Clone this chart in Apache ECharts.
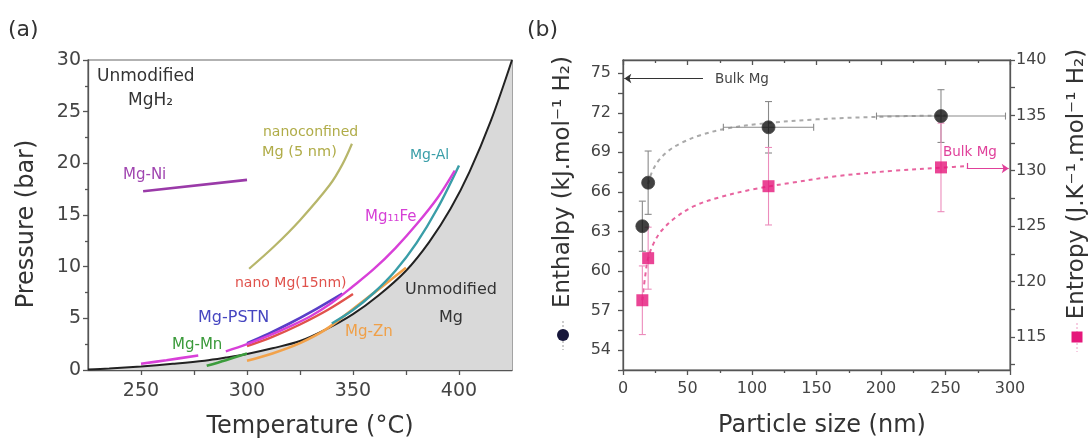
<!DOCTYPE html>
<html><head><meta charset="utf-8">
<script src="https://cdn.jsdelivr.net/npm/echarts@6/dist/echarts.min.js"></script>
<style>html,body{margin:0;padding:0;background:#fff}#c{width:1091px;height:440px}</style>
</head><body><div id="c"></div>
<script>
// ---------- Panel (a): temperature (°C) vs pressure (bar) ----------
const tempLabelsA = [250, 300, 350, 400];
const tempTicksA = [250, 275, 300, 325, 350, 375, 400];
const unmodifiedMgH2 = [[225,0.05],[235,0.15],[250,0.35],[265,0.6],[280,0.9],[290,1.2],[300,1.55],[312,2.1],[325,2.8],[337,3.9],[350,5.4],[362,7.2],[375,9.6],[386,12.4],[396,15.6],[405,19.2],[415,24.1],[425,30]];
const mgNi = [[251,17.3],[300,18.4]];
const nanoconfined5 = [[301,9.8],[313,12.0],[325,14.5],[339,17.9],[345,19.9],[349.5,21.9]];
const mgAl = [[340,4.5],[350,5.8],[360,7.5],[370,9.6],[380,12.3],[390,15.7],[400,19.8]];
const mg11FeLow = [[250,0.6],[262,0.95],[277,1.4]];
const mg11Fe = [[290,1.8],[300,2.5],[310,3.3],[320,4.2],[330,5.2],[340,6.5],[350,8.1],[360,9.8],[370,11.8],[380,14.1],[390,16.7],[398,19.3]];
const nanoMg15 = [[300,2.3],[312,3.2],[325,4.4],[338,5.8],[350,7.35]];
const mgPSTN = [[300,2.6],[310,3.5],[320,4.5],[330,5.6],[345,7.4]];
const mgMn = [[281,0.4],[290,0.95],[300,1.6]];
const mgZn = [[300,0.9],[312,1.6],[325,2.6],[337,3.9],[350,5.9],[362,7.8],[375,9.9]];

// ---------- Panel (b): particle size (nm) vs enthalpy / entropy ----------
const particleSize = [15, 19.5, 112.8, 246.5];
const sizeErr = [0, 0, 35, 50];
const enthalpy = [63.4, 66.7, 70.9, 71.75];
const enthalpyErr = [1.9, 2.4, 1.95, 2.0];
const entropy = [118.3, 122.1, 128.6, 130.3];
const entropyErr = [3.1, 2.8, 3.5, 4.0];
const enthalpyFit = [[19.5,66.6],[22,67.4],[27,68.3],[35,69.1],[45,69.7],[60,70.3],[80,70.8],[110,71.2],[150,71.5],[200,71.7],[250,71.8]];
const entropyFit = [[15,118.3],[17,120.3],[19.5,122.1],[24,123.5],[30,124.6],[40,125.7],[55,126.8],[75,127.6],[100,128.3],[130,128.9],[165,129.5],[210,130.0],[250,130.3],[265,130.4]];
const bulkEnthalpy = 74.6;
const bulkEntropy = 130.2;
const enthalpyLabels = [54, 57, 60, 63, 66, 69, 72, 75];
const enthalpyTicks = [52.5, 54, 55.5, 57, 58.5, 60, 61.5, 63, 64.5, 66, 67.5, 69, 70.5, 72, 73.5, 75];
const entropyLabels = [115, 120, 125, 130, 135, 140];
const entropyTicks = [112.5, 115, 117.5, 120, 122.5, 125, 127.5, 130, 132.5, 135, 137.5, 140];

const FONT = 'DejaVu Sans';
const AX = {color: '#555', width: 1.3};

function curve(data, color, width, extra) {
  return Object.assign({
    type: 'line', xAxisIndex: 0, yAxisIndex: 0, data: data, symbol: 'none',
    smooth: 0.35, silent: true,
    lineStyle: {color: color, width: width}
  }, extra || {});
}

function errorBars(yIdx, data, color) {
  return {
    type: 'custom', xAxisIndex: 1, yAxisIndex: yIdx, data: data, z: 3, silent: true,
    encode: {x: 0, y: 1},
    renderItem: function (params, api) {
      const x = api.value(0), y = api.value(1), dx = api.value(2), dy = api.value(3);
      const st = {stroke: color, lineWidth: 1.1};
      const cap = 3.5;
      const ch = [];
      if (dy > 0) {
        const a = api.coord([x, y + dy]), b = api.coord([x, y - dy]);
        ch.push({type: 'line', shape: {x1: a[0], y1: a[1], x2: b[0], y2: b[1]}, style: st});
        ch.push({type: 'line', shape: {x1: a[0] - cap, y1: a[1], x2: a[0] + cap, y2: a[1]}, style: st});
        ch.push({type: 'line', shape: {x1: b[0] - cap, y1: b[1], x2: b[0] + cap, y2: b[1]}, style: st});
      }
      if (dx > 0) {
        const a = api.coord([x - dx, y]), b = api.coord([x + dx, y]);
        ch.push({type: 'line', shape: {x1: a[0], y1: a[1], x2: b[0], y2: b[1]}, style: st});
        ch.push({type: 'line', shape: {x1: a[0], y1: a[1] - cap, x2: a[0], y2: a[1] + cap}, style: st});
        ch.push({type: 'line', shape: {x1: b[0], y1: b[1] - cap, x2: b[0], y2: b[1] + cap}, style: st});
      }
      return {type: 'group', children: ch};
    }
  };
}

function txt(x, y, text, size, color, align, rot) {
  return {
    type: 'text', x: x, y: y, rotation: rot || 0, z: 100, silent: true,
    style: {
      text: text, x: 0, y: 0, fill: color, font: size + 'px "' + FONT + '"',
      align: align || 'left', textAlign: align || 'left',
      verticalAlign: 'middle', textVerticalAlign: 'middle'
    }
  };
}

const enthalpyPts = particleSize.map((s, i) => [s, enthalpy[i]]);
const entropyPts = particleSize.map((s, i) => [s, entropy[i]]);
const enthalpyErrData = particleSize.map((s, i) => [s, enthalpy[i], sizeErr[i], enthalpyErr[i]]);
const entropyErrData = particleSize.map((s, i) => [s, entropy[i], 0, entropyErr[i]]);

const option = {
  animation: false,
  backgroundColor: '#fff',
  textStyle: {fontFamily: FONT},
  grid: [
    {left: 88, top: 60, width: 424, height: 310, show: true, borderColor: '#666', borderWidth: 1.2},
    {left: 623, top: 60, width: 387, height: 310, show: true, borderColor: '#666', borderWidth: 1.2}
  ],
  xAxis: [
    {gridIndex: 0, type: 'value', min: 225, max: 425,
      axisLine: {show: true, onZero: false, lineStyle: AX},
      axisTick: {show: true, customValues: tempTicksA, length: 5, lineStyle: AX},
      axisLabel: {customValues: tempLabelsA, fontSize: 19, color: '#444', fontFamily: FONT, margin: 12},
      splitLine: {show: false}},
    {gridIndex: 1, type: 'value', min: 0, max: 300, interval: 50,
      axisLine: {show: true, onZero: false, lineStyle: AX},
      axisTick: {show: true, length: 5, lineStyle: AX},
      minorTick: {show: true, splitNumber: 2, length: 3, lineStyle: AX},
      axisLabel: {fontSize: 16, color: '#444', fontFamily: FONT, margin: 11},
      splitLine: {show: false}, minorSplitLine: {show: false}},
    {gridIndex: 1, type: 'value', position: 'top', min: 0, max: 300, interval: 50,
      axisLine: {show: true, onZero: false, lineStyle: AX},
      axisTick: {show: true, inside: true, length: 5, lineStyle: AX},
      minorTick: {show: true, splitNumber: 2, length: 3, lineStyle: AX},
      axisLabel: {show: false},
      splitLine: {show: false}, minorSplitLine: {show: false}}
  ],
  yAxis: [
    {gridIndex: 0, type: 'value', min: 0, max: 30, interval: 5,
      axisLine: {show: true, onZero: false, lineStyle: AX},
      axisTick: {show: true, length: 5, lineStyle: AX},
      minorTick: {show: true, splitNumber: 2, length: 3, lineStyle: AX},
      axisLabel: {fontSize: 19, color: '#444', fontFamily: FONT, margin: 7},
      splitLine: {show: false}, minorSplitLine: {show: false}},
    {gridIndex: 1, type: 'value', position: 'left', min: 52.5, max: 76,
      axisLine: {show: true, onZero: false, lineStyle: AX},
      axisTick: {show: true, customValues: enthalpyTicks, length: 5, lineStyle: AX},
      axisLabel: {customValues: enthalpyLabels, fontSize: 16, color: '#444', fontFamily: FONT, margin: 12},
      splitLine: {show: false}},
    {gridIndex: 1, type: 'value', position: 'right', min: 112, max: 140,
      axisLine: {show: true, onZero: false, lineStyle: AX},
      axisTick: {show: true, customValues: entropyTicks, length: 5, lineStyle: AX},
      axisLabel: {customValues: entropyLabels, fontSize: 16, color: '#444', fontFamily: FONT, margin: 6},
      splitLine: {show: false}}
  ],
  series: [
    curve(unmodifiedMgH2, '#222', 2, {areaStyle: {color: '#d9d9d9', opacity: 1}, z: 1}),
    curve(mgZn, '#f2a24a', 2.6, {z: 2}),
    curve(mgAl, '#3a9ea8', 2.4, {z: 2}),
    curve(mgMn, '#3c9c3c', 2.6, {z: 2}),
    curve(nanoMg15, '#e0524c', 2.4, {z: 2}),
    curve(mgPSTN, '#5a3ec8', 2.6, {z: 2}),
    curve(mg11FeLow, '#d840d8', 2.6, {z: 2}),
    curve(mg11Fe, '#d840d8', 2.4, {z: 2}),
    curve(mgNi, '#9a3aa8', 2.6, {z: 2}),
    curve(nanoconfined5, '#b7b66a', 2.2, {z: 2}),

    {type: 'line', xAxisIndex: 1, yAxisIndex: 1, data: enthalpyFit, symbol: 'none', smooth: 0.35, silent: true,
      lineStyle: {color: '#aaaaaa', width: 2, type: [4, 4]}, z: 2},
    {type: 'line', xAxisIndex: 1, yAxisIndex: 2, data: entropyFit, symbol: 'none', smooth: 0.35, silent: true,
      lineStyle: {color: '#e8649f', width: 2, type: [4, 4]}, z: 2},
    errorBars(1, enthalpyErrData, '#8a8a8a'),
    errorBars(2, entropyErrData, '#ec8cbc'),
    {type: 'scatter', xAxisIndex: 1, yAxisIndex: 1, data: enthalpyPts, symbol: 'circle', symbolSize: 13, silent: true,
      itemStyle: {color: '#111', borderColor: '#444', borderWidth: 1}, z: 6,
      markLine: {silent: true, symbol: ['none', 'arrow'], symbolSize: 7, animation: false,
        lineStyle: {color: '#333', type: 'solid', width: 1}, label: {show: false},
        data: [[{coord: [62, bulkEnthalpy]}, {coord: [1, bulkEnthalpy]}]]}},
    {type: 'scatter', xAxisIndex: 1, yAxisIndex: 2, data: entropyPts, symbol: 'rect', symbolSize: 12, silent: true,
      itemStyle: {color: '#e5177b'}, z: 6,
      markLine: {silent: true, animation: false,
        lineStyle: {color: '#e0409a', type: 'solid', width: 1.2}, label: {show: false},
        data: [
          [{coord: [266.5, bulkEntropy + 0.5], symbol: 'none'}, {coord: [266.5, bulkEntropy], symbol: 'none'}],
          [{coord: [266.5, bulkEntropy], symbol: 'none'}, {coord: [299, bulkEntropy], symbol: 'arrow', symbolSize: 7}]
        ]}}
  ],
  graphic: [
    txt(8, 30, '(a)', 22, '#333'),
    txt(527, 30, '(b)', 22, '#333'),
    txt(27, 224, 'Pressure (bar)', 24, '#333', 'center', Math.PI / 2),
    txt(310, 427, 'Temperature (°C)', 24, '#333', 'center'),
    txt(822, 426, 'Particle size (nm)', 24, '#333', 'center'),
    txt(563, 182, 'Enthalpy (kJ.mol⁻¹ H₂)', 23, '#333', 'center', Math.PI / 2),
    txt(1077, 184, 'Entropy (J.K⁻¹.mol⁻¹ H₂)', 23, '#333', 'center', Math.PI / 2),
    {type: 'line', shape: {x1: 563, y1: 321, x2: 563, y2: 350}, style: {stroke: '#999', lineDash: [2, 2], lineWidth: 1}, z: 99},
    {type: 'circle', shape: {cx: 563, cy: 335, r: 6}, style: {fill: '#16163a'}, z: 100},
    {type: 'line', shape: {x1: 1077, y1: 323, x2: 1077, y2: 352}, style: {stroke: '#ee9cc4', lineDash: [2, 2], lineWidth: 1}, z: 99},
    {type: 'rect', shape: {x: 1071.5, y: 331.5, width: 11, height: 11}, style: {fill: '#e5177b'}, z: 100},

    txt(97, 77, 'Unmodified', 17, '#333'),
    txt(128, 101, 'MgH₂', 17, '#333'),
    txt(263, 132, 'nanoconfined', 14, '#b0ac48'),
    txt(262, 152, 'Mg (5 nm)', 14.5, '#b0ac48'),
    txt(123, 175, 'Mg-Ni', 15, '#a045b0'),
    txt(410, 155, 'Mg-Al', 14, '#3a9ea8'),
    txt(365, 217, 'Mg₁₁Fe', 15, '#d63fd6'),
    txt(235, 283, 'nano Mg(15nm)', 14, '#e0524c'),
    txt(198, 318, 'Mg-PSTN', 16, '#4646c0'),
    txt(172, 345, 'Mg-Mn', 15, '#3a9a3a'),
    txt(345, 332, 'Mg-Zn', 15, '#f0a048'),
    txt(405, 290, 'Unmodified', 16, '#333'),
    txt(451, 318, 'Mg', 16, '#333', 'center'),

    txt(715, 79, 'Bulk Mg', 13.5, '#444'),
    txt(943, 152, 'Bulk Mg', 13.5, '#e0409a')
  ]
};

const chart = echarts.init(document.getElementById('c'), null, {renderer: 'canvas'});
chart.setOption(option);
</script>
</body></html>
